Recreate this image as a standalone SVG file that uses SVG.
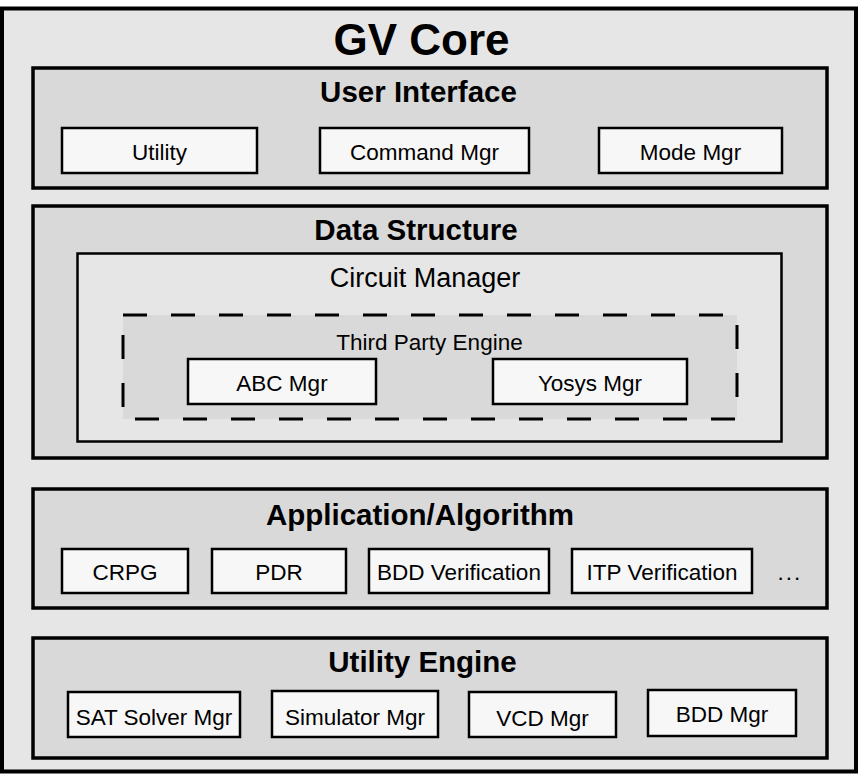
<svg xmlns="http://www.w3.org/2000/svg" width="860" height="777" viewBox="0 0 860 777">
<style>
text{font-family:"Liberation Sans",Arial,sans-serif;fill:#000;text-anchor:middle}
.outer{fill:#e6e6e6;stroke:#000;stroke-width:4}
.layer{fill:#d9d9d9;stroke:#000;stroke-width:3.5}
.sub{fill:#e6e6e6;stroke:#000;stroke-width:2.5}
.dash{fill:#d9d9d9;stroke:#000;stroke-width:3;stroke-dasharray:24 24}
.box{fill:#f7f7f7;stroke:#000;stroke-width:2.5}
.t0{font-size:44px;font-weight:bold}
.t1{font-size:29.5px;font-weight:bold}
.t2{font-size:27px}
.t3{font-size:22.5px}
</style>
<g id="gv-core">
<rect class="outer" x="2" y="8.5" width="854" height="763"/>
<text class="t0" x="421.5" y="55">GV Core</text>
</g>
<g id="user-interface">
<rect class="layer" x="33" y="68" width="794" height="120"/>
<text class="t1" x="418.5" y="102">User Interface</text>
</g>
<g id="utility"><rect class="box" x="62" y="128" width="195" height="45"/><text class="t3" x="159.5" y="160">Utility</text></g>
<g id="command-mgr"><rect class="box" x="320" y="128" width="209" height="45"/><text class="t3" x="424.5" y="160">Command Mgr</text></g>
<g id="mode-mgr"><rect class="box" x="599" y="128" width="183" height="45"/><text class="t3" x="690.5" y="160">Mode Mgr</text></g>
<g id="data-structure">
<rect class="layer" x="33" y="206" width="794" height="252"/>
<text class="t1" x="416" y="240">Data Structure</text>
</g>
<g id="circuit-manager">
<rect class="sub" x="77.5" y="253.5" width="704" height="188"/>
<text class="t2" x="425" y="287">Circuit Manager</text>
</g>
<g id="third-party-engine">
<rect class="dash" x="123" y="315" width="614" height="104"/>
<text class="t3" x="429.5" y="350">Third Party Engine</text>
</g>
<g id="abc-mgr"><rect class="box" x="188" y="359" width="188" height="45"/><text class="t3" x="282" y="391">ABC Mgr</text></g>
<g id="yosys-mgr"><rect class="box" x="493" y="359" width="194" height="45"/><text class="t3" x="590" y="391">Yosys Mgr</text></g>
<g id="application-algorithm">
<rect class="layer" x="33" y="489" width="794" height="119"/>
<text class="t1" x="420" y="525">Application/Algorithm</text>
<text class="t3" x="790" y="580" style="letter-spacing:2px">...</text>
</g>
<g id="crpg"><rect class="box" x="62" y="549" width="126" height="44"/><text class="t3" x="125" y="580">CRPG</text></g>
<g id="pdr"><rect class="box" x="212" y="549" width="134" height="44"/><text class="t3" x="279" y="580">PDR</text></g>
<g id="bdd-verification"><rect class="box" x="369" y="549" width="180" height="44"/><text class="t3" x="459" y="580">BDD Verification</text></g>
<g id="itp-verification"><rect class="box" x="572" y="549" width="180" height="44"/><text class="t3" x="662" y="580">ITP Verification</text></g>
<g id="utility-engine">
<rect class="layer" x="33" y="638" width="794" height="120"/>
<text class="t1" x="422.5" y="672">Utility Engine</text>
</g>
<g id="sat-solver-mgr"><rect class="box" x="68" y="692" width="172" height="45"/><text class="t3" x="154" y="725">SAT Solver Mgr</text></g>
<g id="simulator-mgr"><rect class="box" x="272" y="691" width="166" height="46"/><text class="t3" x="355" y="725">Simulator Mgr</text></g>
<g id="vcd-mgr"><rect class="box" x="469" y="692" width="147" height="45"/><text class="t3" x="542.5" y="726">VCD Mgr</text></g>
<g id="bdd-mgr"><rect class="box" x="648" y="690" width="148" height="46"/><text class="t3" x="722" y="722">BDD Mgr</text></g>
<g id="connectors"></g>
</svg>
